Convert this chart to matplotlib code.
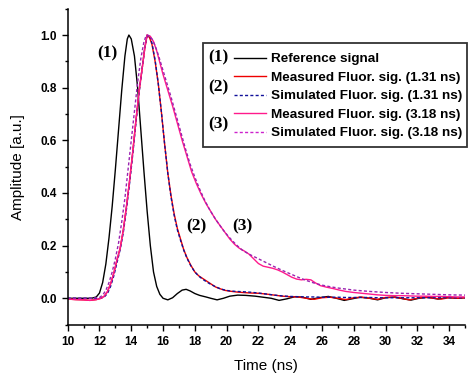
import matplotlib
matplotlib.use('Agg')
import matplotlib.pyplot as plt
from matplotlib.lines import Line2D
from matplotlib.patches import Rectangle
from matplotlib.ticker import MultipleLocator

# reference pulse (1)
ref_t = [10.0, 11.0, 11.5, 11.8, 12.0, 12.2, 12.4, 12.6, 12.8, 13.0,
         13.2, 13.4, 13.6, 13.75, 13.85, 14.0, 14.2, 14.4, 14.6, 14.8,
         15.0, 15.2, 15.4, 15.6, 15.8, 16.0, 16.3, 16.6, 16.9, 17.2,
         17.45, 17.7, 18.0, 18.3, 18.7, 19.0, 19.4, 19.8, 20.2, 20.7,
         21.2, 21.8, 22.3, 22.8, 23.3, 23.8, 24.3, 24.8, 25.3, 25.8,
         26.4, 26.9, 27.4, 27.9, 28.4, 29.0, 29.5, 30.0, 30.6, 31.1,
         31.6, 32.1, 32.7, 33.3, 33.9, 34.5, 35.0]
ref_amp = [0.0, 0.0, 0.0, 0.005, 0.02, 0.06, 0.13, 0.23, 0.35, 0.49,
           0.64, 0.79, 0.92, 0.985, 1.0, 0.985, 0.92, 0.8, 0.64, 0.48,
           0.33, 0.2, 0.1, 0.045, 0.015, 0.0, -0.006, 0.002, 0.018, 0.031,
           0.034, 0.028, 0.018, 0.011, 0.005, 0.0, -0.006, 0.0, 0.008, 0.012,
           0.011, 0.008, 0.004, 0.0, -0.008, -0.002, 0.006, 0.004, -0.004, 0.002,
           0.007, 0.0, -0.008, -0.002, 0.004, 0.0, -0.006, 0.002, 0.005, -0.002,
           -0.007, 0.0, 0.004, -0.003, 0.003, 0.0, 0.002]

# fluorescence 1.31 ns (2), measured and simulated share the time grid
f131_t = [10.0, 10.5, 11.0, 11.4, 11.8, 12.1, 12.3, 12.5, 12.7, 12.9,
          13.1, 13.3, 13.5, 13.7, 13.9, 14.1, 14.3, 14.5, 14.7, 14.85,
          15.0, 15.15, 15.3, 15.5, 15.7, 15.9, 16.1, 16.3, 16.5, 16.7,
          16.9, 17.1, 17.3, 17.5, 17.75, 18.0, 18.25, 18.5, 18.75, 19.0,
          19.3, 19.6, 19.9, 20.2, 20.6, 21.0, 21.5, 22.0, 22.5, 23.0,
          23.5, 24.0, 24.5, 25.0, 25.5, 26.0, 26.5, 27.0, 27.5, 28.0,
          28.5, 29.0, 29.5, 30.0, 30.5, 31.0, 31.5, 32.0, 32.5, 33.0,
          33.5, 34.0, 34.5, 35.0]
meas131_amp = [-0.003, -0.005, -0.006, -0.008, -0.005, 0.0, 0.008, 0.025, 0.055, 0.095,
               0.145, 0.19, 0.26, 0.35, 0.45, 0.56, 0.68, 0.79, 0.88, 0.95,
               1.0, 0.99, 0.965, 0.9, 0.815, 0.705, 0.585, 0.475, 0.39, 0.32,
               0.265, 0.225, 0.185, 0.155, 0.125, 0.1, 0.085, 0.075, 0.065, 0.055,
               0.043, 0.036, 0.03, 0.027, 0.024, 0.022, 0.02, 0.019, 0.016, 0.012,
               0.008, 0.006, 0.005, 0.0, -0.004, 0.002, 0.004, 0.0, -0.005, 0.002,
               0.004, 0.0, -0.004, 0.003, 0.004, 0.0, -0.006, 0.0, 0.004, 0.0,
               -0.003, 0.002, 0.0, 0.002]
sim131_amp = [0.0, 0.0, 0.0, 0.0, 0.0, 0.0, 0.005, 0.018, 0.045, 0.085,
              0.135, 0.185, 0.25, 0.34, 0.44, 0.55, 0.67, 0.785, 0.88, 0.95,
              0.995, 1.0, 0.97, 0.905, 0.815, 0.705, 0.585, 0.475, 0.385, 0.315,
              0.26, 0.22, 0.183, 0.153, 0.123, 0.1, 0.084, 0.072, 0.062, 0.053,
              0.044, 0.036, 0.031, 0.028, 0.026, 0.025, 0.023, 0.02, 0.016, 0.012,
              0.009, 0.007, 0.006, 0.005, 0.005, 0.004, 0.004, 0.004, 0.003, 0.003,
              0.003, 0.003, 0.002, 0.002, 0.002, 0.002, 0.002, 0.002, 0.002, 0.002,
              0.002, 0.002, 0.002, 0.002]

# fluorescence 3.18 ns (3)
meas318_t = [10.0, 10.5, 11.0, 11.4, 11.8, 12.1, 12.3, 12.5, 12.7, 12.9,
             13.1, 13.3, 13.5, 13.7, 13.9, 14.1, 14.3, 14.5, 14.7, 14.85,
             15.0, 15.2, 15.4, 15.6, 15.8, 16.0, 16.3, 16.6, 16.9, 17.2,
             17.5, 17.8, 18.1, 18.4, 18.7, 19.0, 19.3, 19.6, 19.9, 20.2,
             20.5, 20.8, 21.1, 21.4, 21.7, 22.0, 22.3, 22.6, 22.9, 23.2,
             23.5, 23.8, 24.1, 24.4, 24.7, 25.0, 25.3, 25.6, 25.9, 26.3,
             26.7, 27.1, 27.5, 28.0, 28.5, 29.0, 29.5, 30.0, 30.5, 31.0,
             31.5, 32.0, 32.5, 33.0, 33.5, 34.0, 34.5, 35.0]
meas318_amp = [-0.003, -0.005, -0.006, -0.008, -0.005, 0.0, 0.008, 0.025, 0.055, 0.095,
               0.145, 0.19, 0.26, 0.35, 0.45, 0.56, 0.68, 0.79, 0.88, 0.95,
               1.0, 0.995, 0.975, 0.94, 0.895, 0.85, 0.79, 0.73, 0.665, 0.6,
               0.54, 0.48, 0.435, 0.395, 0.36, 0.33, 0.3, 0.275, 0.25, 0.225,
               0.205, 0.19, 0.18, 0.168, 0.15, 0.132, 0.122, 0.118, 0.114, 0.108,
               0.1, 0.09, 0.08, 0.073, 0.07, 0.072, 0.07, 0.058, 0.048, 0.042,
               0.037, 0.031, 0.026, 0.022, 0.019, 0.016, 0.013, 0.011, 0.01, 0.01,
               0.009, 0.008, 0.008, 0.007, 0.007, 0.006, 0.005, 0.005]
sim318_t = [10.0, 11.0, 11.5, 12.0, 12.2, 12.4, 12.6, 12.8, 13.0, 13.2,
            13.4, 13.6, 13.8, 14.0, 14.2, 14.4, 14.6, 14.8, 14.95, 15.1,
            15.3, 15.5, 15.7, 15.9, 16.2, 16.5, 16.8, 17.1, 17.4, 17.7,
            18.0, 18.3, 18.6, 18.9, 19.2, 19.5, 19.8, 20.1, 20.4, 20.7,
            21.0, 21.5, 22.0, 22.5, 23.0, 23.5, 24.0, 24.5, 25.0, 25.5,
            26.0, 26.5, 27.0, 27.5, 28.0, 29.0, 30.0, 31.0, 32.0, 33.0,
            34.0, 35.0]
sim318_amp = [0.0, 0.0, 0.0, 0.003, 0.012, 0.03, 0.06, 0.1, 0.15, 0.21,
              0.29, 0.38, 0.49, 0.6, 0.71, 0.82, 0.91, 0.975, 1.0, 0.998,
              0.985, 0.96, 0.925, 0.885, 0.825, 0.765, 0.7, 0.635, 0.57, 0.51,
              0.46, 0.415, 0.375, 0.34, 0.31, 0.283, 0.258, 0.236, 0.216, 0.198,
              0.182, 0.165, 0.15, 0.135, 0.12, 0.106, 0.093, 0.08, 0.068, 0.058,
              0.05, 0.044, 0.039, 0.035, 0.031, 0.026, 0.022, 0.019, 0.017, 0.015,
              0.013, 0.012]

legend_labels = ['Reference signal',
                 'Measured Fluor. sig. (1.31 ns)',
                 'Simulated Fluor. sig. (1.31 ns)',
                 'Measured Fluor. sig. (3.18 ns)',
                 'Simulated Fluor. sig. (3.18 ns)']


def main():
    plt.rcParams['font.family'] = ['Liberation Sans', 'DejaVu Sans']
    W, H = 469, 373

    fig = plt.figure(figsize=(W / 100, H / 100), dpi=100)
    ax = fig.add_axes([67.7 / W, 48.4 / H, (465 - 67.7) / W, (364.3 - 48.4) / H])

    dash = (0, (2.2, 1.6))
    ax.plot(ref_t, ref_amp, color='black', lw=1.0)
    ax.plot(f131_t, meas131_amp, color='#ee0000', lw=1.0)
    ax.plot(f131_t, sim131_amp, color='#10109a', lw=1.0, linestyle=dash)
    ax.plot(meas318_t, meas318_amp, color='#ff1a8c', lw=1.0)
    ax.plot(sim318_t, sim318_amp, color='#9a22b0', lw=1.0, linestyle=dash)

    ax.set_xlim(10, 35)
    ax.set_ylim(-0.1, 1.1)
    ax.xaxis.set_major_locator(MultipleLocator(2))
    ax.xaxis.set_minor_locator(MultipleLocator(1))
    ax.yaxis.set_major_locator(MultipleLocator(0.2))
    ax.yaxis.set_minor_locator(MultipleLocator(0.1))
    ax.spines['top'].set_visible(False)
    ax.spines['right'].set_visible(False)
    for s in ['left', 'bottom']:
        ax.spines[s].set_linewidth(1.1)
    ax.tick_params(which='major', direction='out', length=4.5, width=1.0, pad=3.5)
    ax.tick_params(which='minor', direction='out', length=2.5, width=1.0)
    for lab in ax.get_xticklabels() + ax.get_yticklabels():
        lab.set_fontsize(8.5)
        lab.set_fontweight('bold')

    ax.set_xlabel('Time (ns)', fontsize=11, labelpad=8)
    ax.set_ylabel('Amplitude [a.u.]', fontsize=11, labelpad=11)

    # legend
    handles = [Line2D([], [], color='black', lw=1.0),
               Line2D([], [], color='#ee0000', lw=1.0),
               Line2D([], [], color='#10109a', lw=1.0, linestyle=dash),
               Line2D([], [], color='#ff1a8c', lw=1.0),
               Line2D([], [], color='#cc22cc', lw=1.0, linestyle=dash)]
    ax.legend(handles, legend_labels, loc='upper left',
              bbox_to_anchor=(234 / W, 1 - 53 / H), bbox_transform=fig.transFigure,
              frameon=False, borderpad=0, borderaxespad=0,
              handlelength=2.37, handletextpad=0.37, labelspacing=0.45,
              prop={'family': 'Liberation Sans', 'weight': 'bold', 'size': 9.7})
    fig.patches.append(Rectangle((203 / W, 1 - 147 / H), 264 / W, 104 / H,
                                 transform=fig.transFigure, fill=False,
                                 edgecolor='#333333', lw=1.3, zorder=5))

    # curve group tags
    tag = dict(family='Liberation Serif', weight='bold', size=12.5, ha='center', va='center')
    for label, px, py in [('(1)', 218.5, 57), ('(2)', 218, 87), ('(3)', 218, 124),
                          ('(1)', 107, 53), ('(2)', 196, 226), ('(3)', 242, 226)]:
        fig.text(px / W, 1 - py / H, label, **tag)

    fig.savefig('out.png', dpi=100)


if __name__ == '__main__':
    main()
